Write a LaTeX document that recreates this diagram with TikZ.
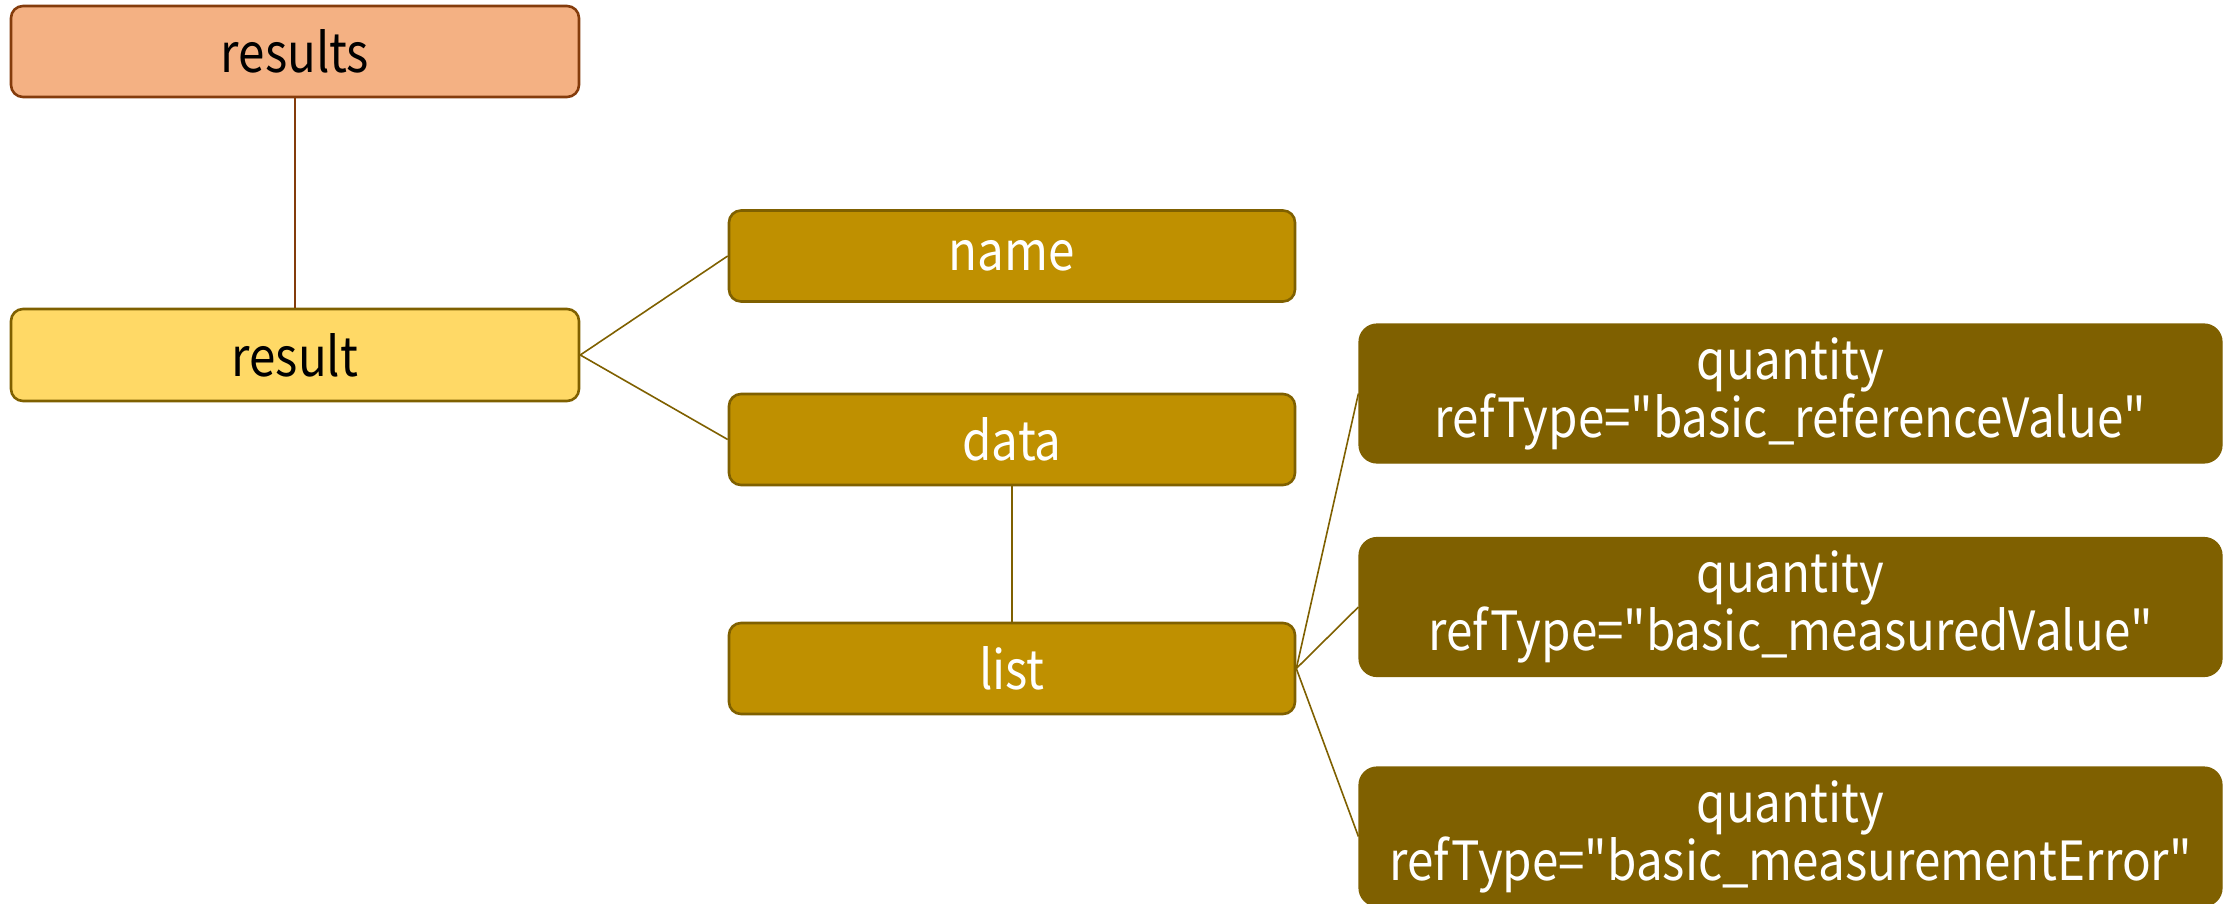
\documentclass[tikz,border=0pt]{standalone}
\usepackage{fontspec}
\setmainfont{Noto Sans CJK JP}[FakeStretch=0.88, Ligatures=TeXOff]
\definecolor{resfill}{HTML}{F4B183}
\definecolor{resdraw}{HTML}{843C0C}
\definecolor{goldfill}{HTML}{FFD966}
\definecolor{olive}{HTML}{7F6000}
\definecolor{mustard}{HTML}{BF9000}
\newcommand{\dq}{\char"22\relax}
\tikzset{
  box/.style={rounded corners=6pt, line width=1.3pt, inner sep=0pt, align=center, font=\fontsize{27}{29}\selectfont},
  topbox/.style={box, fill=resfill, draw=resdraw, minimum width=284pt, minimum height=45.5pt, text=black},
  midbox/.style={box, fill=goldfill, draw=olive, minimum width=284pt, minimum height=46pt, text=black},
  leafbox/.style={box, fill=mustard, draw=olive, minimum width=283pt, minimum height=45.5pt, text=white},
  qbox/.style={box, rounded corners=9pt, fill=olive, draw=olive, line width=0.6pt, minimum width=431.5pt, minimum height=69.5pt, text=white},
  brownline/.style={draw=resdraw, line width=0.8pt},
  oliveline/.style={draw=olive, line width=0.8pt}
}
\begin{document}
\begin{tikzpicture}[x=0.5pt,y=-0.5pt]
\useasboundingbox (0,0) rectangle (2236,904);
\node[topbox] (results) at (295,51.5) {results};
\node[midbox] (result) at (295,355) {result};
\node[leafbox] (name) at (1012,256) {name};
\node[leafbox] (data) at (1012,439.5) {data};
\node[leafbox] (list) at (1012,668.5) {list};
\node[qbox] (q1) at (1790.5,393.5) {quantity\\refType=\dq basic\_referenceValue\dq};
\node[qbox] (q2) at (1790.5,607) {quantity\\refType=\dq basic\_measuredValue\dq};
\node[qbox] (q3) at (1790.5,836.5) {quantity\\refType=\dq basic\_measurementError\dq};
\draw[brownline] (results.south) -- (result.north);
\draw[oliveline] (result.east) -- (name.west);
\draw[oliveline] (result.east) -- (data.west);
\draw[oliveline] (data.south) -- (list.north);
\draw[oliveline] (list.east) -- (q1.west);
\draw[oliveline] (list.east) -- (q2.west);
\draw[oliveline] (list.east) -- (q3.west);
\end{tikzpicture}
\end{document}
